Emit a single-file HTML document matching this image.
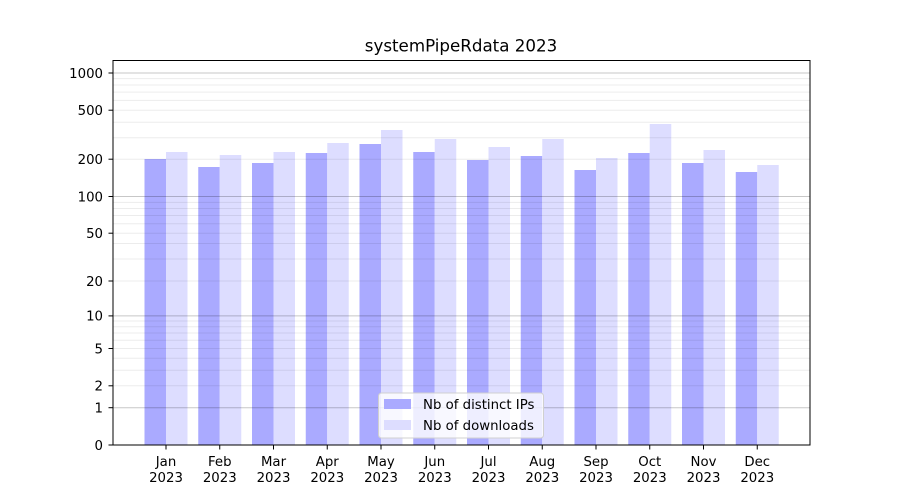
<!DOCTYPE html>
<html><head><meta charset="utf-8">
<style>
html,body{margin:0;padding:0;background:#fff;}
svg{display:block;font-family:"DejaVu Sans","Liberation Sans",sans-serif;}
</style></head>
<body>
<svg width="900" height="500" viewBox="0 0 900 500" xmlns="http://www.w3.org/2000/svg">
<rect x="0" y="0" width="900" height="500" fill="#fff"/>
<g id="bars">
<!-- Jan..Dec centers: 166 + i*53.75 -->
<rect x="144.5" y="159" width="21.5" height="286" fill="#aaaaff"/>
<rect x="166" y="152" width="21.5" height="293" fill="#ddddff"/>
<rect x="198.25" y="167" width="21.5" height="278" fill="#aaaaff"/>
<rect x="219.75" y="155" width="21.5" height="290" fill="#ddddff"/>
<rect x="252" y="163" width="21.5" height="282" fill="#aaaaff"/>
<rect x="273.5" y="152" width="21.5" height="293" fill="#ddddff"/>
<rect x="305.75" y="153" width="21.5" height="292" fill="#aaaaff"/>
<rect x="327.25" y="143" width="21.5" height="302" fill="#ddddff"/>
<rect x="359.5" y="144" width="21.5" height="301" fill="#aaaaff"/>
<rect x="381" y="130" width="21.5" height="315" fill="#ddddff"/>
<rect x="413.25" y="152" width="21.5" height="293" fill="#aaaaff"/>
<rect x="434.75" y="139" width="21.5" height="306" fill="#ddddff"/>
<rect x="467" y="160" width="21.5" height="285" fill="#aaaaff"/>
<rect x="488.5" y="147" width="21.5" height="298" fill="#ddddff"/>
<rect x="520.75" y="156" width="21.5" height="289" fill="#aaaaff"/>
<rect x="542.25" y="139" width="21.5" height="306" fill="#ddddff"/>
<rect x="574.5" y="170" width="21.5" height="275" fill="#aaaaff"/>
<rect x="596" y="158" width="21.5" height="287" fill="#ddddff"/>
<rect x="628.25" y="153" width="21.5" height="292" fill="#aaaaff"/>
<rect x="649.75" y="124" width="21.5" height="321" fill="#ddddff"/>
<rect x="682" y="163" width="21.5" height="282" fill="#aaaaff"/>
<rect x="703.5" y="150" width="21.5" height="295" fill="#ddddff"/>
<rect x="735.75" y="172" width="21.5" height="273" fill="#aaaaff"/>
<rect x="757.25" y="165" width="21.5" height="280" fill="#ddddff"/>
</g>
<g id="minorgrid" stroke="rgba(0,0,0,0.075)" stroke-width="1">
<!-- 2..9 -->
<line x1="113" x2="810" y1="385.8" y2="385.8"/>
<line x1="113" x2="810" y1="370.3" y2="370.3"/>
<line x1="113" x2="810" y1="358.3" y2="358.3"/>
<line x1="113" x2="810" y1="348.5" y2="348.5"/>
<line x1="113" x2="810" y1="340.2" y2="340.2"/>
<line x1="113" x2="810" y1="333.0" y2="333.0"/>
<line x1="113" x2="810" y1="326.7" y2="326.7"/>
<line x1="113" x2="810" y1="321.0" y2="321.0"/>
<!-- 20..90 -->
<line x1="113" x2="810" y1="281.0" y2="281.0"/>
<line x1="113" x2="810" y1="259.0" y2="259.0"/>
<line x1="113" x2="810" y1="243.5" y2="243.5"/>
<line x1="113" x2="810" y1="233.2" y2="233.2"/>
<line x1="113" x2="810" y1="223.7" y2="223.7"/>
<line x1="113" x2="810" y1="215.5" y2="215.5"/>
<line x1="113" x2="810" y1="208.5" y2="208.5"/>
<line x1="113" x2="810" y1="202.4" y2="202.4"/>
<!-- 200..900 -->
<line x1="113" x2="810" y1="159.2" y2="159.2"/>
<line x1="113" x2="810" y1="137.7" y2="137.7"/>
<line x1="113" x2="810" y1="122.2" y2="122.2"/>
<line x1="113" x2="810" y1="110.2" y2="110.2"/>
<line x1="113" x2="810" y1="100.4" y2="100.4"/>
<line x1="113" x2="810" y1="92.1" y2="92.1"/>
<line x1="113" x2="810" y1="85.0" y2="85.0"/>
<line x1="113" x2="810" y1="78.6" y2="78.6"/>
</g>
<g id="majorgrid" stroke="rgba(0,0,0,0.22)" stroke-width="1">
<line x1="113" x2="810" y1="407.7" y2="407.7"/>
<line x1="113" x2="810" y1="315.9" y2="315.9"/>
<line x1="113" x2="810" y1="196.5" y2="196.5"/>
<line x1="113" x2="810" y1="73" y2="73"/>
</g>
<!-- axes frame -->
<rect x="113" y="60.5" width="697" height="384.5" fill="none" stroke="#000" stroke-width="1"/>
<!-- y ticks -->
<g stroke="#000" stroke-width="1">
<line x1="108.5" x2="113" y1="445" y2="445"/>
<line x1="108.5" x2="113" y1="407.7" y2="407.7"/>
<line x1="108.5" x2="113" y1="385.8" y2="385.8"/>
<line x1="108.5" x2="113" y1="348.5" y2="348.5"/>
<line x1="108.5" x2="113" y1="315.9" y2="315.9"/>
<line x1="108.5" x2="113" y1="281.0" y2="281.0"/>
<line x1="108.5" x2="113" y1="233.2" y2="233.2"/>
<line x1="108.5" x2="113" y1="196.5" y2="196.5"/>
<line x1="108.5" x2="113" y1="159.2" y2="159.2"/>
<line x1="108.5" x2="113" y1="110.2" y2="110.2"/>
<line x1="108.5" x2="113" y1="73" y2="73"/>
</g>
<g font-size="13.3" fill="#000" text-anchor="end">
<text x="103" y="449.8">0</text>
<text x="103" y="412.5">1</text>
<text x="103" y="390.6">2</text>
<text x="103" y="353.3">5</text>
<text x="103" y="320.7">10</text>
<text x="103" y="285.8">20</text>
<text x="103" y="238">50</text>
<text x="103" y="201.3">100</text>
<text x="103" y="164">200</text>
<text x="103" y="115">500</text>
<text x="103" y="77.8">1000</text>
</g>
<!-- x ticks -->
<g stroke="#000" stroke-width="1">
<line x1="166" x2="166" y1="445" y2="449.5"/>
<line x1="219.75" x2="219.75" y1="445" y2="449.5"/>
<line x1="273.5" x2="273.5" y1="445" y2="449.5"/>
<line x1="327.25" x2="327.25" y1="445" y2="449.5"/>
<line x1="381" x2="381" y1="445" y2="449.5"/>
<line x1="434.75" x2="434.75" y1="445" y2="449.5"/>
<line x1="488.5" x2="488.5" y1="445" y2="449.5"/>
<line x1="542.25" x2="542.25" y1="445" y2="449.5"/>
<line x1="596" x2="596" y1="445" y2="449.5"/>
<line x1="649.75" x2="649.75" y1="445" y2="449.5"/>
<line x1="703.5" x2="703.5" y1="445" y2="449.5"/>
<line x1="757.25" x2="757.25" y1="445" y2="449.5"/>
</g>
<g font-size="13.3" fill="#000" text-anchor="middle">
<text x="166" y="466">Jan</text><text x="166" y="482">2023</text>
<text x="219.75" y="466">Feb</text><text x="219.75" y="482">2023</text>
<text x="273.5" y="466">Mar</text><text x="273.5" y="482">2023</text>
<text x="327.25" y="466">Apr</text><text x="327.25" y="482">2023</text>
<text x="381" y="466">May</text><text x="381" y="482">2023</text>
<text x="434.75" y="466">Jun</text><text x="434.75" y="482">2023</text>
<text x="488.5" y="466">Jul</text><text x="488.5" y="482">2023</text>
<text x="542.25" y="466">Aug</text><text x="542.25" y="482">2023</text>
<text x="596" y="466">Sep</text><text x="596" y="482">2023</text>
<text x="649.75" y="466">Oct</text><text x="649.75" y="482">2023</text>
<text x="703.5" y="466">Nov</text><text x="703.5" y="482">2023</text>
<text x="757.25" y="466">Dec</text><text x="757.25" y="482">2023</text>
</g>
<!-- title -->
<text x="461" y="51.5" font-size="16.7" text-anchor="middle" fill="#000">systemPipeRdata 2023</text>
<!-- legend -->
<rect x="378.5" y="393" width="165" height="45" rx="3" ry="3" fill="rgba(255,255,255,0.8)" stroke="#d0d0d0" stroke-width="1"/>
<rect x="384" y="399" width="27" height="10" fill="#aaaaff"/>
<rect x="384" y="420" width="27" height="10" fill="#ddddff"/>
<g font-size="13.3" fill="#000">
<text x="423" y="409">Nb of distinct IPs</text>
<text x="423" y="430">Nb of downloads</text>
</g>
</svg>
</body></html>
